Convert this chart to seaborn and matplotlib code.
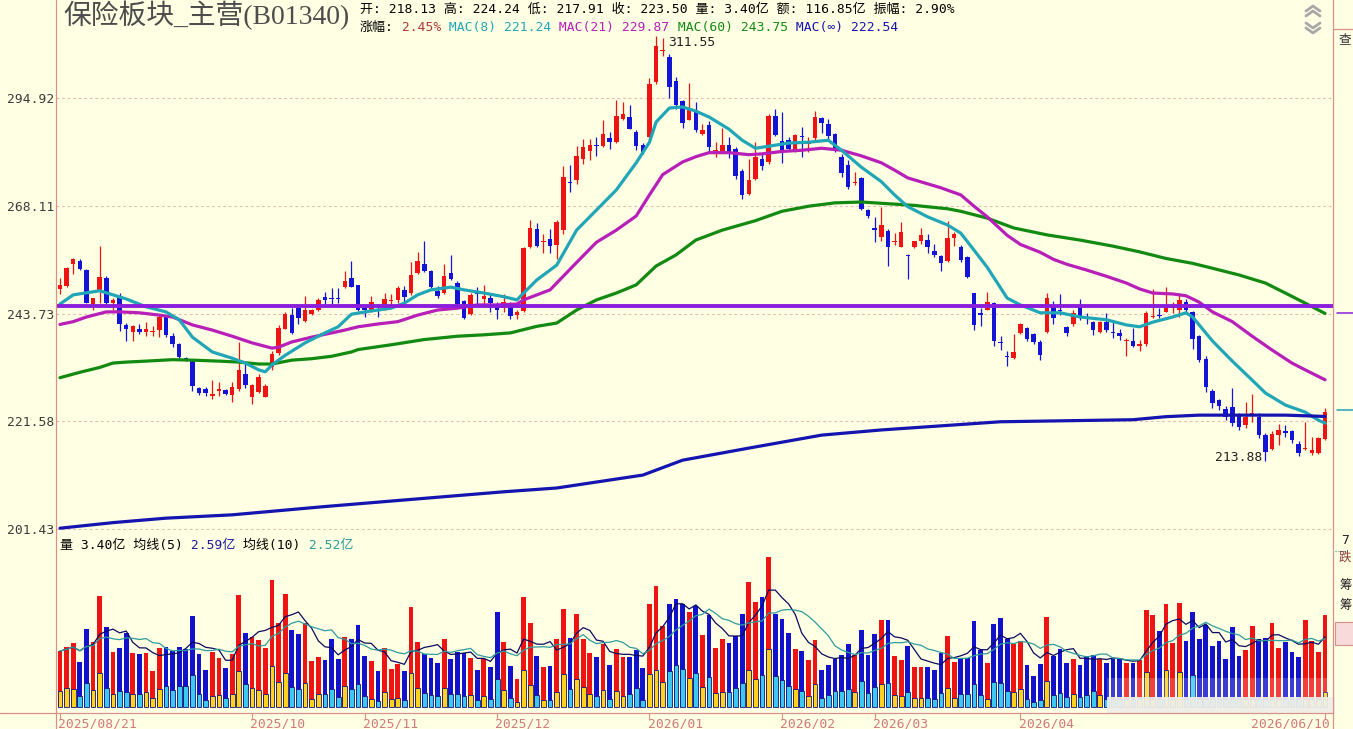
import numpy as np
import pandas as pd
import seaborn as sns
import matplotlib.pyplot as plt
from matplotlib.patches import Rectangle
from matplotlib.ticker import FixedLocator, NullLocator


################################################################################

W, H = 1353, 729

TITLE = "保险板块_主营(B01340)"
HEADER = "开: 218.13 高: 224.24 低: 217.91 收: 223.50 量: 3.40亿 额: 116.85亿 振幅: 2.90%"

Y_TICKS = [201.43, 221.58, 243.73, 268.11, 294.92]
H_LINE = 245.4

DATE_POS = [0, 29, 46, 66, 89, 109, 123, 145, 191]
DATE_LBL = ["2025/08/21", "2025/10", "2025/11", "2025/12", "2026/01",
            "2026/02", "2026/03", "2026/04", "2026/06/10"]

OPEN = [
  249.0, 249.8, 254.6, 255.3, 253.3, 245.8, 248.7, 251.6, 246.1, 247.6, 241.3, 239.8,
  240.5, 239.9, 239.8, 240.2, 243.3, 239.0, 237.3, 234.4, 233.8, 228.2, 228.0, 226.7,
  227.7, 227.8, 226.9, 228.1, 231.0, 226.5, 227.5, 226.5, 232.4, 235.4, 240.5, 243.4,
  244.9, 242.2, 243.6, 244.5, 247.4, 247.1, 247.1, 249.5, 251.6, 250.0, 245.0, 244.6,
  245.2, 245.0, 246.4, 246.7, 248.9, 248.1, 252.7, 254.6, 253.1, 248.7, 248.3, 252.7,
  250.4, 246.5, 243.6, 248.3, 247.0, 247.1, 245.3, 245.0, 245.6, 243.4, 244.3, 258.4,
  262.6, 259.6, 260.3, 259.0, 262.4, 273.9, 274.3, 279.4, 281.3, 283.0, 282.7, 284.7,
  283.6, 289.4, 289.9, 286.3, 282.9, 284.8, 299.0, 307.3, 305.9, 299.3, 294.2, 289.3,
  291.8, 285.7, 288.0, 281.4, 281.4, 283.0, 282.0, 276.5, 270.8, 274.5, 279.4, 278.6,
  290.2, 283.8, 284.1, 281.4, 285.0, 283.2, 284.6, 289.7, 288.2, 285.7, 279.9, 278.0,
  273.6, 274.8, 267.1, 262.7, 260.9, 262.1, 259.6, 258.6, 256.6, 258.4, 259.8, 260.1,
  257.6, 256.4, 255.3, 260.5, 258.6, 256.2, 248.2, 243.7, 244.6, 246.0, 237.6, 234.6,
  234.4, 239.5, 240.6, 239.3, 237.7, 239.8, 245.1, 244.4, 240.9, 241.4, 245.4, 243.1,
  241.9, 239.8, 241.9, 239.8, 239.6, 237.9, 237.9, 236.9, 237.2, 242.9, 243.4, 244.1,
  244.9, 244.6, 246.3, 244.0, 238.9, 234.2, 227.6, 225.8, 224.0, 224.4, 222.8, 220.8,
  223.0, 222.5, 218.9, 216.2, 218.9, 219.6, 219.6, 217.1, 216.2, 215.5, 215.5, 218.13]

HIGH = [
  251.5, 253.9, 255.9, 255.8, 253.5, 247.1, 258.8, 252.0, 247.1, 248.3, 241.7, 241.3,
  241.5, 242.0, 241.0, 243.4, 243.4, 239.6, 237.5, 234.6, 233.9, 228.4, 228.5, 229.8,
  229.4, 228.0, 229.4, 237.7, 233.3, 229.1, 231.0, 229.1, 235.7, 241.3, 244.0, 245.0,
  245.2, 247.6, 244.8, 247.1, 248.5, 249.3, 249.3, 253.0, 255.3, 250.0, 245.6, 247.5,
  245.8, 248.3, 248.0, 249.8, 249.8, 255.0, 257.3, 260.0, 253.3, 249.8, 254.6, 256.8,
  250.8, 246.7, 248.3, 249.6, 250.0, 248.0, 246.2, 248.0, 246.2, 244.4, 258.5, 264.7,
  264.0, 261.4, 262.6, 264.8, 277.6, 278.0, 282.6, 284.4, 284.5, 285.0, 289.2, 286.2,
  294.3, 294.0, 293.0, 286.7, 283.3, 300.2, 311.55, 310.9, 306.5, 300.4, 294.4, 298.9,
  293.8, 288.2, 289.0, 283.7, 287.2, 285.0, 282.3, 277.0, 279.4, 283.7, 280.7, 290.8,
  292.0, 291.2, 285.0, 285.7, 287.5, 285.0, 291.5, 290.0, 289.4, 286.0, 280.7, 279.2,
  276.2, 275.1, 267.4, 265.4, 267.8, 262.6, 261.7, 264.2, 256.9, 260.0, 262.8, 261.4,
  259.3, 256.6, 264.5, 262.0, 259.0, 256.5, 248.3, 244.9, 248.5, 246.2, 238.9, 235.8,
  239.3, 241.8, 240.8, 239.5, 238.1, 248.2, 246.4, 248.0, 241.1, 244.5, 247.0, 243.8,
  242.2, 242.2, 243.9, 241.9, 240.5, 238.6, 240.6, 238.1, 244.3, 249.0, 244.9, 249.6,
  246.3, 248.2, 247.0, 244.3, 239.1, 234.8, 228.0, 226.1, 224.6, 228.3, 223.3, 225.5,
  227.0, 223.3, 219.4, 219.6, 221.0, 220.9, 219.9, 217.7, 221.5, 218.6, 218.6, 224.24]

LOW = [
  248.0, 249.6, 252.4, 253.3, 246.0, 244.5, 246.0, 245.8, 244.5, 240.0, 237.8, 237.8,
  239.3, 239.0, 238.9, 238.8, 238.8, 236.7, 234.2, 233.7, 227.7, 226.8, 226.7, 226.1,
  226.7, 226.8, 225.5, 227.7, 228.3, 225.0, 227.3, 226.5, 231.9, 235.0, 240.4, 239.3,
  241.6, 242.0, 243.4, 244.2, 245.8, 245.8, 246.0, 249.3, 249.5, 244.3, 243.0, 244.0,
  243.0, 244.4, 245.0, 246.0, 245.6, 247.8, 252.5, 252.8, 249.4, 247.2, 248.0, 251.0,
  245.6, 242.5, 243.5, 245.4, 245.3, 244.0, 242.6, 244.0, 242.6, 242.6, 244.1, 258.2,
  258.6, 257.2, 257.2, 255.8, 261.5, 271.3, 273.4, 278.2, 279.2, 280.1, 282.3, 282.0,
  283.4, 289.3, 286.9, 281.6, 280.6, 284.0, 298.5, 306.2, 294.8, 292.0, 287.2, 289.2,
  286.2, 285.3, 281.2, 279.9, 280.8, 279.6, 274.5, 269.6, 270.6, 274.4, 276.8, 278.3,
  285.1, 278.4, 281.6, 281.1, 279.9, 281.1, 284.0, 286.0, 284.3, 281.2, 275.1, 272.2,
  273.1, 267.1, 265.3, 259.6, 260.0, 254.2, 258.9, 258.4, 251.3, 258.2, 259.3, 257.1,
  256.2, 253.1, 255.2, 258.8, 255.2, 251.6, 240.2, 241.1, 244.4, 236.9, 236.0, 232.6,
  234.2, 239.3, 237.8, 237.2, 233.9, 239.6, 241.6, 243.4, 239.0, 241.1, 242.3, 241.5,
  239.2, 239.6, 239.8, 238.5, 238.1, 234.8, 236.6, 235.8, 236.8, 242.7, 242.7, 244.0,
  243.8, 243.1, 243.8, 236.3, 233.6, 227.5, 224.2, 223.9, 221.9, 220.6, 219.9, 220.2,
  221.5, 218.3, 213.88, 216.0, 217.0, 218.6, 217.3, 214.8, 216.0, 215.0, 215.3, 217.91]

CLOSE = [
  250.0, 253.7, 255.7, 253.5, 246.1, 247.1, 251.8, 246.1, 246.7, 241.5, 240.4, 241.0,
  239.7, 240.5, 240.0, 243.1, 239.2, 237.3, 234.5, 234.0, 228.7, 227.3, 227.3, 227.0,
  227.9, 227.1, 228.4, 231.9, 228.8, 228.9, 230.5, 228.6, 235.2, 240.7, 243.6, 239.6,
  242.7, 244.5, 244.5, 246.7, 246.7, 246.9, 246.9, 250.8, 249.6, 244.5, 244.5, 246.2,
  245.1, 246.9, 246.7, 249.3, 247.4, 252.2, 255.3, 253.1, 249.6, 247.6, 251.9, 251.3,
  245.8, 242.7, 247.8, 248.0, 247.6, 246.1, 244.6, 246.3, 243.2, 244.0, 258.2, 262.8,
  258.8, 259.7, 258.8, 264.2, 275.1, 273.6, 280.1, 282.5, 282.9, 282.7, 285.8, 283.7,
  290.2, 290.7, 287.0, 282.7, 281.2, 298.6, 308.8, 307.8, 297.7, 293.2, 288.4, 291.8,
  286.7, 286.8, 282.3, 281.6, 283.0, 280.7, 275.3, 270.6, 274.3, 279.9, 277.6, 290.2,
  285.5, 281.2, 282.0, 285.4, 284.8, 283.4, 290.1, 288.5, 285.2, 282.0, 276.0, 272.7,
  273.8, 267.3, 265.7, 262.5, 263.6, 258.6, 259.8, 261.9, 256.4, 259.8, 261.2, 258.6,
  256.7, 254.9, 260.5, 261.4, 255.5, 251.8, 241.3, 243.5, 246.3, 237.9, 237.4, 234.5,
  235.5, 241.6, 238.4, 237.7, 234.9, 247.1, 242.7, 244.2, 239.6, 243.9, 242.9, 242.8,
  240.2, 241.9, 240.2, 239.6, 238.9, 238.2, 236.8, 237.2, 243.8, 243.2, 243.2, 245.6,
  245.2, 246.7, 244.5, 238.4, 233.9, 228.5, 225.3, 224.6, 222.5, 221.3, 220.5, 222.5,
  223.3, 218.9, 215.7, 219.2, 219.9, 219.4, 217.9, 215.5, 216.4, 216.0, 218.3, 223.50]

# volume, 亿
VOL = [
  2.07, 2.21, 2.38, 1.67, 2.88, 2.42, 4.10, 2.96, 2.04, 2.20, 2.75, 2.01,
  1.96, 2.01, 1.35, 2.20, 2.21, 2.07, 2.22, 2.14, 3.36, 1.96, 1.37, 2.05,
  1.83, 1.46, 1.96, 4.14, 2.74, 2.60, 2.49, 2.20, 4.69, 3.12, 4.19, 2.86,
  2.71, 3.09, 1.72, 1.87, 1.76, 2.53, 1.79, 2.60, 2.53, 3.03, 1.90, 1.72,
  1.35, 2.20, 1.42, 1.60, 1.35, 3.71, 2.41, 1.96, 1.83, 1.64, 2.53, 1.78,
  2.05, 1.99, 1.83, 1.37, 1.77, 1.50, 3.52, 2.41, 1.52, 1.04, 4.08, 3.11,
  1.89, 1.50, 1.52, 2.53, 3.62, 2.56, 3.44, 2.53, 2.01, 1.85, 2.34, 1.56,
  2.16, 1.85, 1.85, 2.12, 1.46, 3.80, 4.48, 2.99, 3.82, 3.99, 3.80, 3.52,
  3.74, 2.66, 3.40, 2.20, 2.52, 2.38, 2.63, 3.45, 4.63, 3.89, 4.08, 5.55,
  3.44, 3.25, 2.74, 2.16, 2.07, 1.75, 2.49, 1.39, 1.57, 1.79, 1.93, 2.34,
  1.94, 2.86, 1.94, 2.71, 3.22, 3.23, 1.89, 1.74, 2.27, 1.50, 1.50, 1.50,
  1.37, 1.99, 2.63, 1.67, 1.83, 1.83, 3.19, 2.11, 1.64, 3.07, 3.29, 2.52,
  2.32, 2.44, 1.56, 1.17, 1.60, 3.33, 1.89, 2.16, 1.64, 1.79, 1.56, 1.89,
  1.93, 1.79, 1.64, 1.83, 1.77, 1.64, 1.62, 1.74, 3.58, 3.40, 2.82, 3.80,
  2.38, 3.85, 2.44, 3.52, 2.50, 3.04, 2.27, 2.44, 1.78, 2.97, 1.89, 2.11,
  3.01, 2.52, 2.56, 3.12, 2.17, 2.42, 2.05, 1.86, 3.22, 2.44, 2.05, 3.40]

# lower (inner) part of each volume bar
VOL_IN = [
  0.60, 0.72, 0.67, 0.43, 0.91, 0.64, 1.27, 0.72, 0.49, 0.60, 0.58, 0.50,
  0.50, 0.58, 0.35, 0.69, 0.80, 0.64, 0.80, 0.80, 1.20, 0.50, 0.28, 0.43,
  0.47, 0.35, 0.50, 1.35, 0.87, 0.72, 0.65, 0.50, 1.53, 0.94, 1.27, 0.76,
  0.69, 0.91, 0.32, 0.48, 0.50, 0.69, 0.39, 0.80, 0.69, 0.87, 0.43, 0.32,
  0.24, 0.58, 0.32, 0.35, 0.28, 1.27, 0.72, 0.54, 0.47, 0.43, 0.72, 0.48,
  0.49, 0.43, 0.47, 0.28, 0.43, 0.32, 1.05, 0.64, 0.35, 0.21, 1.37, 0.83,
  0.47, 0.28, 0.28, 0.58, 1.23, 0.69, 1.05, 0.76, 0.50, 0.43, 0.65, 0.32,
  0.61, 0.43, 0.50, 0.72, 0.28, 1.24, 1.39, 0.94, 1.35, 1.57, 1.42, 1.09,
  1.27, 0.76, 1.13, 0.54, 0.58, 0.58, 0.72, 0.91, 1.39, 1.05, 1.20, 2.16,
  1.17, 1.02, 0.80, 0.69, 0.61, 0.43, 0.87, 0.35, 0.47, 0.61, 0.61, 0.69,
  0.58, 0.98, 0.54, 0.76, 0.87, 0.91, 0.47, 0.43, 0.58, 0.35, 0.35, 0.35,
  0.31, 0.54, 0.72, 0.35, 0.50, 0.50, 0.87, 0.47, 0.31, 0.94, 0.91, 0.61,
  0.58, 0.69, 0.32, 0.21, 0.28, 0.98, 0.47, 0.54, 0.39, 0.50, 0.39, 0.47,
  0.61, 0.47, 0.30, 0.30, 0.30, 0.30, 0.30, 0.30, 1.31, 0.30, 0.30, 1.37,
  0.30, 1.31, 0.30, 1.19, 0.30, 0.30, 0.30, 0.30, 0.30, 0.30, 0.30, 0.30,
  0.30, 0.30, 0.30, 0.30, 0.30, 0.30, 0.30, 0.30, 0.30, 0.30, 0.30, 0.55]

# MAC lines, (bar index, value)
MA8 = [(0, 245.8), (2, 247.8), (6, 248.7), (10, 246.9), (13, 245.2), (16, 244.1),
       (18, 242.4), (20, 238.7), (23, 235.6), (26, 234.3), (28, 233.3), (30, 231.9),
       (31, 231.5), (32, 232.9), (34, 234.9), (37, 237.5), (40, 239.6), (42, 240.9),
       (44, 243.6), (47, 244.3), (50, 244.9), (52, 246.0), (54, 247.8), (56, 248.9),
       (59, 249.5), (61, 248.9), (64, 248.2), (67, 247.4), (69, 246.7), (70, 248.2),
       (72, 251.1), (75, 254.4), (78, 262.4), (81, 267.1), (84, 271.9), (87, 278.5),
       (89, 283.6), (90, 288.7), (92, 292.3), (94, 292.6), (96, 291.5), (98, 290.0),
       (101, 286.9), (103, 284.1), (105, 282.1), (107, 282.6), (110, 283.4), (113, 283.6),
       (116, 284.1), (118, 281.6), (121, 277.4), (124, 273.9), (126, 270.7), (128, 267.9),
       (131, 265.5), (134, 263.6), (136, 261.7), (138, 257.8), (140, 253.9), (143, 247.1),
       (145, 245.6), (148, 243.9), (151, 243.9), (154, 243.0), (158, 242.4), (161, 241.3),
       (163, 240.9), (165, 241.9), (168, 243.0), (170, 243.9), (171, 243.0), (174, 237.9),
       (177, 233.7), (180, 229.8), (182, 227.2), (185, 224.8), (188, 223.4), (190, 221.8),
       (191, 221.24)]

MA21 = [(0, 241.4), (2, 242.0), (4, 243.0), (7, 244.1), (9, 244.1), (12, 243.9),
        (15, 243.4), (17, 243.0), (20, 241.3), (23, 240.2), (26, 238.9), (29, 237.5),
        (32, 236.4), (33, 236.6), (35, 237.7), (38, 238.7), (41, 239.6), (43, 240.2),
        (45, 240.9), (48, 241.5), (51, 242.0), (54, 243.4), (57, 244.5), (60, 244.9),
        (63, 245.6), (66, 245.6), (69, 245.8), (70, 246.7), (74, 248.9), (78, 255.0),
        (81, 259.6), (84, 262.4), (87, 265.7), (89, 270.7), (91, 275.6), (94, 278.7),
        (96, 280.0), (98, 281.0), (101, 281.0), (104, 280.5), (106, 280.7), (109, 281.3),
        (112, 281.6), (115, 282.1), (118, 281.6), (121, 280.2), (124, 278.5), (126, 276.7),
        (128, 274.8), (133, 272.4), (136, 270.7), (138, 268.0), (140, 265.5), (143, 261.2),
        (145, 259.1), (148, 257.3), (150, 255.7), (152, 254.6), (155, 253.3), (158, 251.9),
        (161, 250.4), (163, 249.1), (165, 248.2), (168, 248.0), (170, 247.6), (172, 246.2),
        (174, 244.1), (177, 242.0), (180, 238.9), (183, 236.0), (186, 233.3), (188, 231.9),
        (191, 229.87)]

MA60 = [(0, 230.3), (3, 231.4), (6, 232.4), (8, 233.3), (10, 233.5), (13, 233.7),
        (17, 234.0), (20, 233.9), (24, 233.7), (27, 233.5), (30, 233.1), (32, 233.1),
        (35, 233.9), (38, 234.2), (41, 234.7), (44, 235.6), (45, 236.1), (50, 237.1),
        (55, 238.2), (60, 238.9), (64, 239.2), (68, 239.6), (72, 241.0), (75, 241.7),
        (78, 244.5), (81, 246.7), (84, 248.2), (87, 250.0), (90, 254.2), (93, 256.7),
        (96, 260.1), (100, 262.4), (105, 264.6), (109, 266.8), (113, 268.0), (117, 268.8),
        (121, 269.0), (124, 268.7), (129, 268.2), (134, 267.4), (136, 266.8), (140, 265.2),
        (144, 262.9), (149, 261.3), (154, 260.1), (159, 258.7), (163, 257.4), (167, 255.9),
        (171, 254.8), (174, 253.7), (178, 252.2), (182, 250.4), (185, 248.2), (188, 246.0),
        (191, 243.75)]

MA_INF = [(0, 201.6), (8, 202.6), (16, 203.4), (26, 204.0), (40, 205.5), (53, 206.8),
          (67, 208.2), (75, 208.9), (88, 211.3), (94, 214.1), (104, 216.4), (115, 218.9),
          (124, 219.9), (142, 221.5), (157, 221.8), (162, 221.9), (167, 222.5), (172, 222.8),
          (185, 222.8), (191, 222.54)]

BG = "#FFFFE4"
AXC = "#D99088"
GRID = "#E6BDB2"
RED, BLUE = "#EE1414", "#1414D6"
VRED, VBLUE, VYEL, VCYAN = "#EE1414", "#1212CC", "#FFD21E", "#3CC8F0"
C8, C21, C60, CINF, CPUR = "#20A6B6", "#B81EB8", "#128A12", "#1414B0", "#8A1EDC"

MONO = ["DejaVu Sans Mono", "Noto Sans CJK SC"]


def box(left, top, right, bottom):
  return [left / W, 1 - bottom / H, (right - left) / W, (bottom - top) / H]


def rich(ax, x, y, parts, size=9.4):
  t = ax.text(x, y, parts[0][0], color=parts[0][1], fontsize=size, va="center", ha="left")
  for s, col in parts[1:]:
    t = ax.annotate(s, xy=(1, 0), xycoords=t, va="bottom", ha="left", color=col, fontsize=size)


def plotPrice(ax):
  o, h, l, c = map(np.array, (OPEN, HIGH, LOW, CLOSE))
  x = np.arange(len(c))
  col = np.where(c >= o, RED, BLUE)

  ax.vlines(x, l, h, colors=col, lw=0.9, zorder=2)
  ax.bar(x, np.maximum(np.abs(c - o), 0.3), bottom=np.minimum(o, c), width=0.68,
         color=col, lw=0, zorder=3)

  for pts, colr in ((MA60, C60), (MA21, C21), (MA8, C8), (MA_INF, CINF)):
    xs, ys = zip(*pts)
    sns.lineplot(x=list(xs), y=list(ys), ax=ax, color=colr, lw=2.3, zorder=5)
  ax.axhline(H_LINE, color=CPUR, lw=2.8, zorder=6)

  ax.annotate("311.55", xy=(90, 311.55), xytext=(8.5, -5), textcoords="offset points",
              va="center", ha="left", fontsize=9.4, color="#202020")
  ax.annotate("213.88", xy=(182, 213.88), xytext=(-2.5, 3), textcoords="offset points",
              va="center", ha="right", fontsize=9.4, color="#202020")

  ax.set_yscale("log")
  ax.set_ylim(200.75, 313.19)
  ax.set_xlim(-0.6, 192.2)
  ax.yaxis.set_major_locator(FixedLocator(Y_TICKS))
  ax.yaxis.set_minor_locator(NullLocator())
  ax.set_yticklabels([f"{v:.2f}" for v in Y_TICKS])
  ax.tick_params(axis="y", length=0, pad=1.5, labelsize=9.4, labelcolor="#3a3a3a")
  ax.tick_params(axis="x", bottom=False, labelbottom=False)
  ax.set_xlabel("")
  ax.set_ylabel("")
  ax.grid(axis="y", color=GRID, ls=(0, (2.5, 2.5)), lw=0.8)
  ax.grid(axis="x", visible=False)
  ax.set_axisbelow(True)
  ax.set_facecolor(BG)
  for s in ax.spines.values():
    s.set_visible(False)


def plotVolume(axv):
  up = np.array(CLOSE) >= np.array(OPEN)
  x = np.arange(len(VOL))
  axv.bar(x, VOL, width=0.72, color=np.where(up, VRED, VBLUE), lw=0, zorder=2)
  axv.bar(x, VOL_IN, width=0.72, color=np.where(up, VYEL, VCYAN), edgecolor="#14147A",
          lw=0.6, zorder=3)

  vs = pd.Series(VOL)
  sns.lineplot(x=x, y=vs.rolling(5, min_periods=1).mean(), ax=axv, color="#0A0A60", lw=0.9, zorder=4)
  sns.lineplot(x=x, y=vs.rolling(10, min_periods=1).mean(), ax=axv, color="#2E9C9C", lw=0.9, zorder=4)

  axv.set_ylim(-0.21, 6.35)
  axv.set_xlim(-0.6, 192.2)
  axv.set_yticks([])
  axv.set_xticks(DATE_POS)
  axv.tick_params(axis="x", bottom=True, length=4, width=0.8, color=AXC, direction="out",
                  labelbottom=False)
  axv.set_xlabel("")
  axv.set_ylabel("")
  axv.grid(False)
  axv.set_facecolor(BG)
  for s in axv.spines.values():
    s.set_visible(False)

  for pos, lab in zip(DATE_POS, DATE_LBL):
    last = pos == DATE_POS[-1]
    axv.annotate(lab, xy=(pos + (0.7 if last else 0), 0), xycoords=("data", "axes fraction"),
                 xytext=(0 if last else -1.2, -3.2), textcoords="offset points",
                 ha="right" if last else "left", va="top", fontsize=9.4, color="#D27878",
                 annotation_clip=False)


def decorate(ov):
  ov.set_xlim(0, W)
  ov.set_ylim(H, 0)
  ov.axis("off")
  ov.patch.set_visible(False)

  # blurred watermark strip at the bottom right
  ov.add_patch(Rectangle((1107, 678), 228, 19, color="white", alpha=0.18, lw=0))
  ov.add_patch(Rectangle((1107, 697), 228, 16, color="#EFEFE9", alpha=0.94, lw=0))

  ov.plot([56, 56], [0, H], color=AXC, lw=0.9)
  ov.plot([1333, 1333], [0, H], color=AXC, lw=0.9)
  ov.plot([0, 1333], [713, 713], color=AXC, lw=0.9)
  ov.plot([1333, W], [29, 29], color=AXC, lw=0.9)

  ov.text(63, 15, TITLE, fontsize=20, color="#4d4d4d", va="center", ha="left",
          family=["Liberation Serif", "Noto Sans CJK SC"])
  ov.text(360, 9, HEADER, fontsize=9.4, color="black", va="center", ha="left")
  rich(ov, 360, 27, [("涨幅:", "black"), (" 2.45%", "#B03434"),
                     (" MAC(8) 221.24", C8), (" MAC(21) 229.87", C21),
                     (" MAC(60) 243.75", C60), (" MAC(∞) 222.54", CINF)])
  rich(ov, 60, 545, [("量 3.40亿 均线(5)", "black"), (" 2.59亿", "#1A1A9A"),
                     (" 均线(10)", "black"), (" 2.52亿", "#2A9A9A")])

  # scroll chevrons
  for yy in (6, 11):
    ov.plot([1306, 1313, 1320], [yy + 5, yy, yy + 5], color="#A8A8A8", lw=2)
  for yy in (23, 28):
    ov.plot([1306, 1313, 1320], [yy, yy + 5, yy], color="#A8A8A8", lw=2)

  # side panel stubs, kept inside the picture
  ov.text(1339, 40, "查", fontsize=9, color="#333333", va="center", ha="left")
  ov.text(1341, 541, "7", fontsize=9.4, color="#222222", va="center", ha="left")
  ov.text(1339, 557, "跌", fontsize=9, color="#8B3A3A", va="center", ha="left")
  ov.text(1339, 586, "筹", fontsize=9, color="#222222", va="center", ha="left")
  ov.text(1339, 605, "筹", fontsize=9, color="#222222", va="center", ha="left")
  ov.add_patch(Rectangle((1335, 622), 20, 23, fc="#F9DADA", ec=AXC, lw=0.8))
  ov.plot([1337, W], [313, 313], color=CPUR, lw=1.1)
  ov.plot([1337, W], [410, 410], color=C8, lw=1.1)
  ov.plot([1335, 1346], [551, 551], color="#2E9C9C", lw=0.8, ls=":")


def main():
  sns.set_theme(style="white")
  plt.rcParams["font.family"] = MONO
  plt.rcParams["axes.unicode_minus"] = False

  fig = plt.figure(figsize=(W / 100, H / 100), dpi=100, facecolor=BG)
  ax = fig.add_axes(box(56, 30, 1333, 533))
  axv = fig.add_axes(box(56, 535, 1333, 713))
  ov = fig.add_axes([0, 0, 1, 1], zorder=10)

  plotPrice(ax)
  plotVolume(axv)
  decorate(ov)

  fig.savefig("out.png", dpi=100, facecolor=BG)

main()
